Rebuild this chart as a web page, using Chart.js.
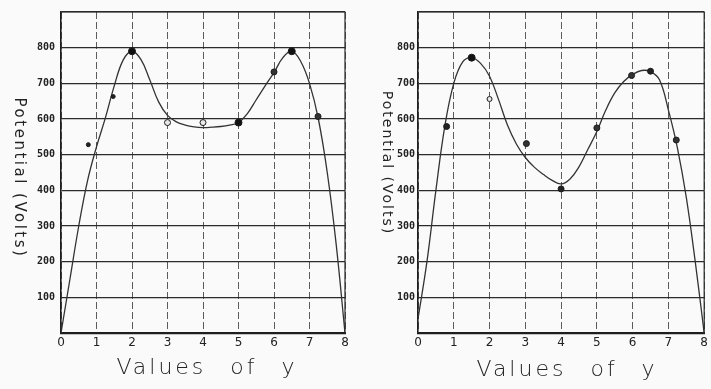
<!DOCTYPE html>
<html><head><meta charset="utf-8">
<script src="https://cdn.jsdelivr.net/npm/chart.js@4"></script>
<style>
html,body{margin:0;padding:0;background:#fafafa;}
#wrap{position:relative;width:711px;height:389px;overflow:hidden;background:#fafafa;}
canvas{position:absolute;top:0;}
</style></head><body>
<div id="wrap">
<canvas id="c1" width="355" height="389" style="left:0"></canvas>
<canvas id="c2" width="356" height="389" style="left:355px"></canvas>
</div>
<script>
// ---- data ----
const xTickValues = [0, 1, 2, 3, 4, 5, 6, 7, 8];
const yTickLabels = ['100', '200', '300', '400', '500', '600', '700', '800'];
const xTitle = 'Values of y';
const yTitle = 'Potential (Volts)';

// left panel: smooth hand-drawn curve (read every quarter unit)
const leftCurveX = [0, 0.25, 0.5, 0.75, 1.0, 1.25, 1.5, 1.75, 2.0, 2.25, 2.5, 2.75, 3.0, 3.25, 3.5, 3.75, 4.0, 4.25, 4.5, 4.75, 5.0, 5.25, 5.5, 5.75, 6.0, 6.25, 6.5, 6.75, 7.0, 7.25, 7.5, 7.75, 8.0];
const leftCurveY = [0, 150, 300, 428, 522, 603, 693, 765, 790, 767, 710, 648, 610, 592, 583, 578, 576, 577, 579, 583, 590, 615, 654, 693, 730, 772, 790, 762, 700, 600, 450, 250, 0];
// left panel: observed points
const leftPointsX = [0.77, 1.47, 2.0, 3.0, 4.0, 5.0, 6.0, 6.5, 7.24];
const leftPointsY = [528, 663, 790, 590, 590, 590, 732, 790, 607];

// right panel: smooth hand-drawn curve (read every quarter unit)
const rightCurveX = [0, 0.25, 0.5, 0.75, 1.0, 1.25, 1.5, 1.75, 2.0, 2.25, 2.5, 2.75, 3.0, 3.25, 3.5, 3.75, 4.0, 4.25, 4.5, 4.75, 5.0, 5.25, 5.5, 5.75, 6.0, 6.25, 6.5, 6.75, 7.0, 7.25, 7.5, 7.75, 8.0];
const rightCurveY = [40, 200, 400, 580, 700, 760, 772, 756, 720, 655, 583, 530, 492, 465, 445, 428, 418, 432, 466, 515, 565, 625, 673, 705, 725, 736, 733, 710, 625, 520, 380, 200, 0];
// right panel: observed points
const rightPointsX = [0.8, 1.5, 2.0, 3.03, 4.0, 5.0, 5.97, 6.5, 7.22];
const rightPointsY = [579, 772, 656, 531, 404, 575, 722, 734, 541];

function pairs(xs, ys) { return xs.map((x, i) => ({ x: x, y: ys[i] })); }

const handText = {
  id: 'handText',
  afterDraw(chart, args, o) {
    const ctx = chart.ctx, ca = chart.chartArea;
    ctx.save();
    ctx.strokeStyle = '#2a2a2a';
    ctx.lineWidth = 1.2;
    ctx.beginPath();
    ctx.moveTo(ca.left, ca.top); ctx.lineTo(ca.right, ca.top); ctx.lineTo(ca.right, ca.bottom);
    ctx.stroke();
    ctx.fillStyle = '#232323';
    ctx.textAlign = 'center';
    ctx.textBaseline = 'middle';
    ctx.font = o.xFont;
    ctx.letterSpacing = o.xSpacing;
    ctx.wordSpacing = o.xWord;
    ctx.fillText(o.xText, (ca.left + ca.right) / 2 + o.xShift, o.xY);
    ctx.translate(o.yX, o.yY);
    ctx.rotate(Math.PI / 2);
    ctx.font = o.yFont;
    ctx.letterSpacing = o.ySpacing;
    ctx.wordSpacing = '0px';
    ctx.fillText(o.yText, 0, 0);
    ctx.restore();
  }
};

function makeChart(id, curveX, curveY, ptsX, ptsY, ptRadius, ptFill, cfg) {
  return new Chart(document.getElementById(id), {
    data: {
      datasets: [
        {
          type: 'line',
          data: pairs(curveX, curveY),
          borderColor: '#333',
          borderWidth: 1.3,
          pointRadius: 0,
          tension: 0.4,
          fill: false,
          order: 2
        },
        {
          type: 'scatter',
          data: pairs(ptsX, ptsY),
          pointRadius: ptRadius,
          pointBackgroundColor: ptFill,
          pointBorderColor: '#1a1a1a',
          pointBorderWidth: 1,
          order: 1
        }
      ]
    },
    options: {
      responsive: false,
      animation: false,
      events: [],
      layout: { padding: { left: 0, right: cfg.padRight, top: 12, bottom: 0 } },
      plugins: {
        legend: { display: false },
        tooltip: { enabled: false },
        handText: cfg.text
      },
      scales: {
        x: {
          type: 'linear',
          min: 0, max: 8,
          afterBuildTicks: s => { s.ticks = xTickValues.map(v => ({ value: v })); },
          afterFit: s => { s.height = 56; },
          ticks: {
            autoSkip: false, maxRotation: 0, padding: 3,
            color: '#222',
            font: { family: 'DejaVu Sans', size: 12 },
            callback: v => String(v)
          },
          grid: { color: '#5c5c5c', lineWidth: 1, drawTicks: false },
          border: { color: '#1e1e1e', width: 2.2, dash: [7, 3] }
        },
        y: {
          type: 'linear',
          min: 0, max: 900,
          afterBuildTicks: s => { s.ticks = [0, 100, 200, 300, 400, 500, 600, 700, 800, 900].map(v => ({ value: v })); },
          afterFit: s => { s.width = cfg.yWidth; },
          ticks: {
            padding: cfg.yPad,
            color: '#222',
            font: { family: 'DejaVu Sans Mono', size: 10, weight: 'bold' },
            callback: v => (v > 0 && v < 900) ? yTickLabels[v / 100 - 1] : ''
          },
          grid: { color: '#2b2b2b', lineWidth: 1.3, drawTicks: false },
          border: { color: '#1e1e1e', width: 1.6 }
        }
      }
    },
    plugins: [handText]
  });
}

makeChart('c1', leftCurveX, leftCurveY, leftPointsX, leftPointsY,
  [2, 2, 3.5, 3, 3, 3.5, 3, 3.5, 3],
  ['#222', '#222', '#111', '#e8e8e8', '#e8e8e8', '#111', '#333', '#111', '#333'],
  { padRight: 10, yWidth: 61, yPad: 6,
    text: { xText: xTitle, xFont: '300 22px "DejaVu Sans"', xSpacing: '3px', xWord: '14px', xShift: 4, xY: 368,
            yText: yTitle, yFont: '15px "DejaVu Sans"', ySpacing: '2.5px', yX: 19, yY: 178 } });

makeChart('c2', rightCurveX, rightCurveY, rightPointsX, rightPointsY,
  [3, 3.5, 2.5, 3, 3, 3, 3, 3, 3],
  ['#222', '#111', '#e8e8e8', '#333', '#222', '#333', '#333', '#222', '#333'],
  { padRight: 6, yWidth: 63, yPad: 3,
    text: { xText: xTitle, xFont: '300 22px "DejaVu Sans"', xSpacing: '3px', xWord: '14px', xShift: 6, xY: 370,
            yText: yTitle, yFont: '14px "DejaVu Sans"', ySpacing: '2px', yX: 32, yY: 163 } });
</script>
</body></html>
